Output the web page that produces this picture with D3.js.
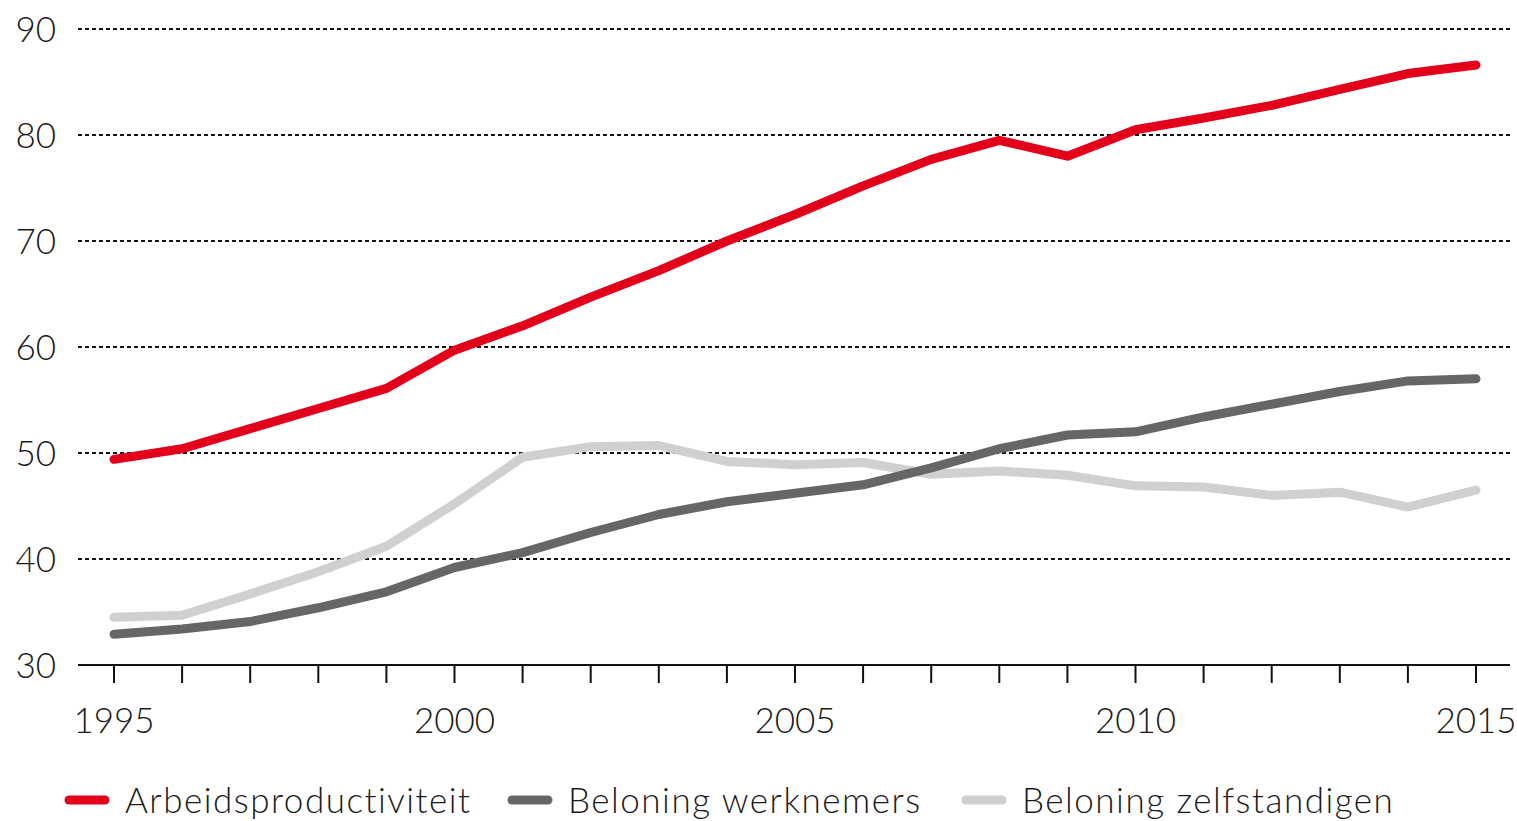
<!DOCTYPE html>
<html>
<head>
<meta charset="utf-8">
<script src="https://cdn.jsdelivr.net/npm/d3@7"></script>
<style>
  html, body { margin: 0; padding: 0; background: #fff; }
  svg { display: block; font-family: Lato, "Noto Sans", sans-serif; font-weight: 300; }
  .tick text { font-size: 35px; fill: #1a1a1a; }
  .legend text { font-size: 35px; fill: #1a1a1a; letter-spacing: 1.5px; }
</style>
</head>
<body>
<svg id="chart" width="1517" height="821"></svg>
<script>
const years = d3.range(1995, 2016);
const arbeidsproductiviteit = [49.4, 50.4, 52.3, 54.2, 56.1, 59.7, 62.0, 64.7, 67.2, 70.0, 72.5, 75.2, 77.7, 79.5, 78.0, 80.5, 81.6, 82.8, 84.3, 85.8, 86.6];
const beloningWerknemers = [32.9, 33.4, 34.1, 35.4, 36.9, 39.2, 40.6, 42.5, 44.2, 45.4, 46.2, 47.0, 48.6, 50.4, 51.7, 52.0, 53.4, 54.6, 55.8, 56.8, 57.0];
const beloningZelfstandigen = [34.5, 34.7, 36.7, 38.8, 41.2, 45.2, 49.6, 50.6, 50.7, 49.2, 48.9, 49.1, 48.0, 48.3, 47.9, 46.9, 46.8, 46.0, 46.3, 44.9, 46.5];
const yTicks = [30, 40, 50, 60, 70, 80, 90];
const xLabels = [1995, 2000, 2005, 2010, 2015];

const series = [
  { name: "Arbeidsproductiviteit", values: arbeidsproductiviteit, color: "#e2001a" },
  { name: "Beloning werknemers", values: beloningWerknemers, color: "#666666" },
  { name: "Beloning zelfstandigen", values: beloningZelfstandigen, color: "#d0d0d0" }
];

const svg = d3.select("#chart");
const gridLeft = 78, gridRight = 1510;

const x = d3.scaleLinear().domain([1995, 2015]).range([114, 1476]);
const y = d3.scaleLinear().domain([30, 90]).range([665, 29]);

// gridlines
svg.append("g")
  .selectAll("line")
  .data(yTicks.filter(d => d > 30))
  .join("line")
  .attr("x1", gridLeft).attr("x2", gridRight)
  .attr("y1", d => y(d)).attr("y2", d => y(d))
  .attr("stroke", "#111")
  .attr("stroke-width", 2)
  .attr("stroke-dasharray", "4,3");

// y labels
svg.append("g")
  .attr("class", "tick")
  .selectAll("text")
  .data(yTicks)
  .join("text")
  .attr("x", 56)
  .attr("y", d => y(d))
  .attr("dy", "0.36em")
  .attr("text-anchor", "end")
  .text(d => d);

// x axis
const xAxis = svg.append("g").attr("transform", `translate(0,${y(30)})`);
xAxis.append("line")
  .attr("x1", gridLeft).attr("x2", gridRight)
  .attr("stroke", "#111").attr("stroke-width", 2);
xAxis.selectAll("line.t")
  .data(years)
  .join("line")
  .attr("class", "t")
  .attr("x1", d => x(d)).attr("x2", d => x(d))
  .attr("y1", 0).attr("y2", 18)
  .attr("stroke", "#111").attr("stroke-width", 2);
xAxis.append("g")
  .attr("class", "tick")
  .selectAll("text")
  .data(xLabels)
  .join("text")
  .attr("x", d => x(d))
  .attr("y", 68)
  .attr("text-anchor", "middle")
  .text(d => d);

// lines
const line = d3.line()
  .x((d, i) => x(years[i]))
  .y(d => y(d));

svg.append("g")
  .selectAll("path")
  .data(series.slice().reverse())
  .join("path")
  .attr("d", d => line(d.values))
  .attr("fill", "none")
  .attr("stroke", d => d.color)
  .attr("stroke-width", 9)
  .attr("stroke-linecap", "round")
  .attr("stroke-linejoin", "round");

// legend
const legendX = [65, 508, 962];
const legend = svg.append("g").attr("class", "legend")
  .selectAll("g")
  .data(series)
  .join("g")
  .attr("transform", (d, i) => `translate(${legendX[i]},800)`);
legend.append("line")
  .attr("x1", 4).attr("x2", 40)
  .attr("stroke", d => d.color)
  .attr("stroke-width", 9)
  .attr("stroke-linecap", "round");
legend.append("text")
  .attr("x", 60)
  .attr("dy", "0.36em")
  .text(d => d.name);
</script>
</body>
</html>
